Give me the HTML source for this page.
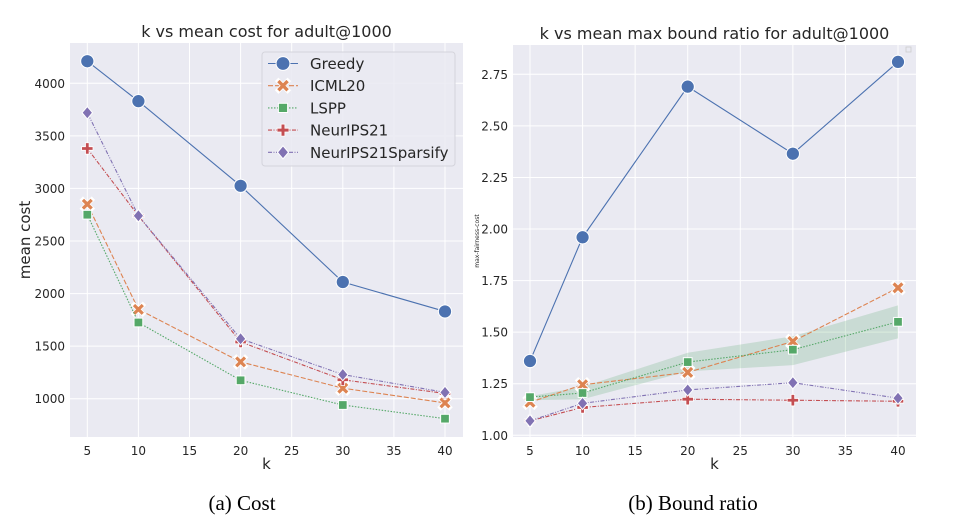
<!DOCTYPE html>
<html><head><meta charset="utf-8"><style>
html,body{margin:0;padding:0;background:#fff;}
svg{display:block;font-family:"DejaVu Sans","Liberation Sans",sans-serif;}
</style></head><body>
<svg id="fig" width="956" height="530" viewBox="0 0 956 530" xmlns="http://www.w3.org/2000/svg"></svg>
<script>
const ks = [5, 10, 20, 30, 40];
const xTicks = [5, 10, 15, 20, 25, 30, 35, 40];
const seriesNames = ["Greedy", "ICML20", "LSPP", "NeurIPS21", "NeurIPS21Sparsify"];
const costGreedy = [4210, 3830, 3025, 2110, 1830];
const costICML = [2850, 1850, 1350, 1100, 960];
const costLSPP = [2750, 1725, 1175, 940, 810];
const costNeur = [3380, 2740, 1540, 1180, 1050];
const costSpars = [3720, 2740, 1570, 1230, 1060];
const costTicks = [1000, 1500, 2000, 2500, 3000, 3500, 4000];
const ratioGreedy = [1.36, 1.96, 2.69, 2.365, 2.81];
const ratioICML = [1.16, 1.245, 1.305, 1.455, 1.715];
const ratioLSPP = [1.185, 1.205, 1.355, 1.415, 1.55];
const ratioLSPPLo = [1.17, 1.175, 1.31, 1.34, 1.47];
const ratioLSPPHi = [1.19, 1.235, 1.40, 1.48, 1.63];
const ratioNeur = [1.07, 1.135, 1.175, 1.17, 1.165];
const ratioSpars = [1.07, 1.155, 1.22, 1.255, 1.18];
const ratioTicks = [1.00, 1.25, 1.50, 1.75, 2.00, 2.25, 2.50, 2.75];

const colors = ["#4c72b0", "#dd8452", "#55a868", "#c44e52", "#8172b3"];
const dashes = ["", "5,2", "1.5,1.5", "4,1.5,1,1.5", "4,1.5,1,1.5,1,1.5"];
const markers = ["circle", "x", "square", "plus", "diamond"];
const NS = "http://www.w3.org/2000/svg";
const svg = document.getElementById("fig");

function mk(tag, attrs, parent, text) {
  const e = document.createElementNS(NS, tag);
  for (const k in attrs) e.setAttribute(k, attrs[k]);
  if (text !== undefined) e.textContent = text;
  (parent || svg).appendChild(e);
  return e;
}

function marker(g, type, x, y, c, s) {
  let e;
  if (type === "circle") e = mk("circle", {cx: x, cy: y, r: 6.3 * s, fill: c, stroke: "#fff", "stroke-width": 1}, g);
  else if (type === "square") e = mk("rect", {x: x - 4.6 * s, y: y - 4.6 * s, width: 9.2 * s, height: 9.2 * s, fill: c, stroke: "#fff", "stroke-width": 1}, g);
  else if (type === "diamond") e = mk("polygon", {points: `${x},${y - 6.5 * s} ${x + 5.5 * s},${y} ${x},${y + 6.5 * s} ${x - 5.5 * s},${y}`, fill: c, stroke: "#fff", "stroke-width": 1}, g);
  else if (type === "plus") {
    const a = 6 * s, b = 1.9 * s;
    e = mk("path", {d: `M${x - b},${y - a}h${2 * b}v${a - b}h${a - b}v${2 * b}h${-(a - b)}v${a - b}h${-2 * b}v${-(a - b)}h${-(a - b)}v${-2 * b}h${a - b}z`, fill: c, stroke: "#fff", "stroke-width": 0.8}, g);
  } else {
    const a = 4.6 * s, b = 1.7 * s;
    e = mk("g", {}, g);
    mk("path", {d: `M${x - a},${y - a}L${x + a},${y + a}M${x + a},${y - a}L${x - a},${y + a}`, stroke: "#fff", "stroke-width": 2 * b + 1.6, "stroke-linecap": "square"}, e);
    mk("path", {d: `M${x - a},${y - a}L${x + a},${y + a}M${x + a},${y - a}L${x - a},${y + a}`, stroke: c, "stroke-width": 2 * b, "stroke-linecap": "butt"}, e);
  }
  return e;
}

function panel(cfg) {
  const g = mk("g", {});
  
  
  const bg = mk("rect", {x: cfg.L, y: cfg.T, width: cfg.R - cfg.L, height: cfg.B - cfg.T, fill: "#eaeaf2"}, g);
  
  
  const xs = v => cfg.x0 + (v - 5) * (cfg.x1 - cfg.x0) / 35;
  const ys = v => cfg.y0 + (v - cfg.v0) * (cfg.y1 - cfg.y0) / (cfg.v1 - cfg.v0);
  xTicks.forEach(t => {
    mk("line", {x1: xs(t), x2: xs(t), y1: cfg.T, y2: cfg.B, stroke: "#fff", "stroke-width": 1}, g);
    const tl = mk("text", {x: xs(t), y: cfg.B + 18, "text-anchor": "middle", "font-size": 12, fill: "#262626"}, g, String(t));
    
    
  });
  cfg.yTicks.forEach(t => {
    mk("line", {x1: cfg.L, x2: cfg.R, y1: ys(t), y2: ys(t), stroke: "#fff", "stroke-width": 1}, g);
    const tl = mk("text", {x: cfg.L - 5, y: ys(t) + 4.5, "text-anchor": "end", "font-size": 12, fill: "#262626"}, g, cfg.fmt(t));
    
    
  });
  if (cfg.band) {
    let d = "";
    ks.forEach((k, i) => { d += (i ? "L" : "M") + xs(k) + "," + ys(cfg.band[1][i]); });
    for (let i = ks.length - 1; i >= 0; i--) d += "L" + xs(ks[i]) + "," + ys(cfg.band[0][i]);
    const b = mk("path", {d: d + "Z", fill: "#55a868", "fill-opacity": 0.22}, g);
    
    
  }
  cfg.data.forEach((arr, si) => {
    const sg = mk("g", {}, g);
    
    
    const pts = ks.map((k, i) => xs(k) + "," + ys(arr[i])).join(" ");
    const pl = mk("polyline", {points: pts, fill: "none", stroke: colors[si], "stroke-width": 1.1, "stroke-dasharray": dashes[si]}, sg);
    
    
    ks.forEach((k, i) => {
      const m = marker(sg, markers[si], xs(k), ys(arr[i]), colors[si], si === 0 ? 1.05 : 0.95);
      
      
    });
  });
  const title = mk("text", {x: (cfg.L + cfg.R) / 2, y: cfg.T - 6, "text-anchor": "middle", "font-size": 16, fill: "#262626"}, g, cfg.title);
  
  
  const xl = mk("text", {x: (cfg.L + cfg.R) / 2, y: 469, "text-anchor": "middle", "font-size": 15, fill: "#262626"}, g, "k");
  
  
  const yl = mk("text", {x: cfg.ylx, y: (cfg.T + cfg.B) / 2, "text-anchor": "middle", "font-size": cfg.ylSize, fill: "#262626", transform: `rotate(-90 ${cfg.ylx} ${(cfg.T + cfg.B) / 2})`}, g, cfg.ylabel);
  
  
  return g;
}

panel({name: "cost-chart", L: 70, R: 463, T: 43, B: 437, x0: 87.3, x1: 445, y0: 398.7, y1: 83.3, v0: 1000, v1: 4000,
  yTicks: costTicks, fmt: t => String(t), data: [costGreedy, costICML, costLSPP, costNeur, costSpars],
  title: "k vs mean cost for adult@1000", ylabel: "mean cost", ylx: 30, ylSize: 15});
panel({name: "bound-ratio-chart", L: 513, R: 916, T: 45, B: 437, x0: 530, x1: 898, y0: 435.3, y1: 74.3, v0: 1.0, v1: 2.75,
  yTicks: ratioTicks, fmt: t => t.toFixed(2), data: [ratioGreedy, ratioICML, ratioLSPP, ratioNeur, ratioSpars],
  band: [ratioLSPPLo, ratioLSPPHi],
  title: "k vs mean max bound ratio for adult@1000", ylabel: "max-fairness-cost", ylx: 479, ylSize: 6});

const el = mk("rect", {x: 906, y: 47, width: 5, height: 5, fill: "none", stroke: "#ccc", "stroke-width": 0.8});



const lg = mk("g", {});


mk("rect", {x: 262, y: 52, width: 193, height: 114, rx: 3, fill: "#eaeaf2", "fill-opacity": 0.85, stroke: "#d4d4dc", "stroke-width": 1}, lg);
seriesNames.forEach((n, i) => {
  const y = 63.5 + i * 22.2;
  const eg = mk("g", {}, lg);
  
  
  mk("line", {x1: 268, x2: 298, y1: y, y2: y, stroke: colors[i], "stroke-width": 1.1, "stroke-dasharray": dashes[i]}, eg);
  marker(eg, markers[i], 283, y, colors[i], i === 0 ? 1.1 : 1.0);
  mk("text", {x: 310, y: y + 5.5, "font-size": 15, fill: "#262626"}, eg, n);
});

const c1 = mk("text", {x: 242, y: 510, "text-anchor": "middle", "font-size": 21, fill: "#000", "font-family": "Liberation Serif, serif"}, svg, "(a) Cost");


const c2 = mk("text", {x: 693, y: 510, "text-anchor": "middle", "font-size": 21, fill: "#000", "font-family": "Liberation Serif, serif"}, svg, "(b) Bound ratio");


</script>
</body></html>
